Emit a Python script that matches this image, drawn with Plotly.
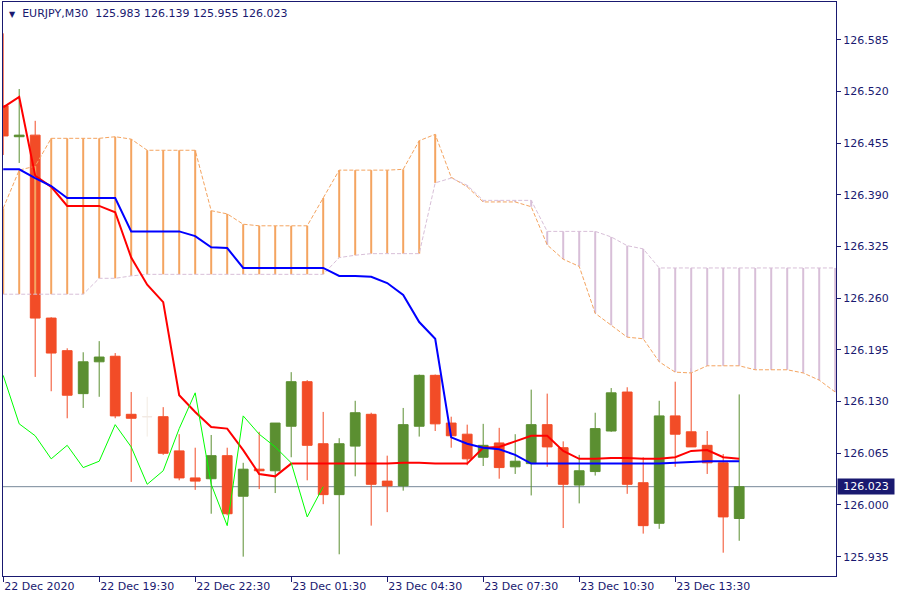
import plotly.graph_objects as go

# ---------------- data ----------------
symbol_title = "EURJPY,M30"
tick_idx = [0, 6, 12, 18, 24, 30, 36, 42]
tick_labels = ["22 Dec 2020", "22 Dec 19:30", "22 Dec 22:30", "23 Dec 01:30",
               "23 Dec 04:30", "23 Dec 07:30", "23 Dec 10:30", "23 Dec 13:30"]

opens = [126.502, 126.463, 126.465, 126.235, 126.194, 126.140, 126.180, 126.187,
         126.114, 126.111, 126.111, 126.068, 126.034, 126.033, 126.062, 126.011,
         126.045, 126.043, 126.099, 126.155, 126.077, 126.013, 126.074, 126.114,
         126.030, 126.024, 126.099, 126.163, 126.103, 126.089, 126.060, 126.078,
         126.048, 126.052, 126.101, 126.072, 126.025, 126.042, 126.093, 126.142,
         126.028, 125.977, 126.112, 126.092, 126.075, 126.053, 125.983]
highs = [126.593, 126.523, 126.483, 126.236, 126.197, 126.192, 126.206, 126.191,
         126.142, 126.136, 126.123, 126.089, 126.072, 126.088, 126.072, 126.053,
         126.092, 126.103, 126.167, 126.157, 126.117, 126.084, 126.131, 126.116,
         126.062, 126.122, 126.164, 126.164, 126.111, 126.101, 126.102, 126.097,
         126.089, 126.145, 126.140, 126.080, 126.063, 126.116, 126.147, 126.148,
         126.060, 126.131, 126.155, 126.172, 126.093, 126.064, 126.139]
lows = [126.440, 126.430, 126.161, 126.143, 126.109, 126.122, 126.136, 126.109,
        126.029, 126.086, 126.063, 126.031, 126.019, 125.989, 125.987, 125.935,
        126.020, 126.015, 126.060, 126.031, 126.001, 125.938, 126.036, 125.974,
        125.991, 126.018, 126.086, 126.093, 126.072, 126.050, 126.049, 126.033,
        126.039, 126.012, 126.048, 125.971, 126.002, 126.037, 126.092, 126.014,
        125.964, 125.970, 126.048, 126.073, 126.039, 125.940, 125.955]
closes = [126.464, 126.465, 126.235, 126.191, 126.138, 126.180, 126.186, 126.112,
          126.109, 126.111, 126.065, 126.034, 126.030, 126.062, 125.989, 126.045,
          126.043, 126.103, 126.155, 126.075, 126.013, 126.077, 126.116, 126.026,
          126.024, 126.101, 126.163, 126.102, 126.087, 126.058, 126.075, 126.047,
          126.055, 126.101, 126.073, 126.026, 126.043, 126.096, 126.141, 126.026,
          125.974, 126.112, 126.089, 126.073, 126.053, 125.985, 126.023]

tenkan = [126.500, 126.513, 126.414, 126.400, 126.376, 126.376, 126.376, 126.368,
          126.311, 126.277, 126.255, 126.138, 126.117, 126.098, 126.096, 126.069,
          126.039, 126.036, 126.052, 126.052, 126.052, 126.052, 126.052, 126.052,
          126.052, 126.053, 126.053, 126.052, 126.052, 126.052, 126.072, 126.073,
          126.080, 126.087, 126.087, 126.068, 126.058, 126.058, 126.059, 126.059,
          126.058, 126.058, 126.060, 126.068, 126.069, 126.060, 126.058]
kijun = [126.422, 126.422, 126.411, 126.401, 126.386, 126.386, 126.386, 126.386,
         126.344, 126.344, 126.344, 126.344, 126.338, 126.324, 126.323, 126.298,
         126.298, 126.298, 126.298, 126.298, 126.298, 126.288, 126.288, 126.287,
         126.279, 126.264, 126.230, 126.209, 126.085, 126.077, 126.072, 126.070,
         126.063, 126.052, 126.052, 126.052, 126.052, 126.052, 126.052, 126.052,
         126.052, 126.052, 126.053, 126.054, 126.055, 126.055, 126.055]
span_a = [126.373, 126.421, 126.426, 126.461, 126.461, 126.461, 126.461, 126.463,
          126.460, 126.446, 126.446, 126.446, 126.446, 126.370, 126.366, 126.353,
          126.351, 126.351, 126.351, 126.351, 126.386, 126.421, 126.421, 126.421,
          126.421, 126.422, 126.458, 126.466, 126.412, 126.400, 126.381, 126.381,
          126.381, 126.375, 126.327, 126.309, 126.300, 126.241, 126.226, 126.211,
          126.209, 126.180, 126.167, 126.166, 126.175, 126.175, 126.175, 126.170,
          126.170, 126.170, 126.166, 126.157, 126.142]
span_b = [126.265, 126.265, 126.265, 126.265, 126.265, 126.265, 126.285, 126.285,
          126.288, 126.290, 126.290, 126.290, 126.290, 126.290, 126.290, 126.290,
          126.290, 126.290, 126.290, 126.290, 126.290, 126.311, 126.314, 126.316,
          126.316, 126.316, 126.316, 126.405, 126.411, 126.402, 126.383, 126.383,
          126.383, 126.383, 126.344, 126.344, 126.344, 126.344, 126.337, 126.326,
          126.322, 126.298, 126.298, 126.298, 126.298, 126.298, 126.298, 126.298,
          126.298, 126.298, 126.298, 126.298, 126.298]
chikou_shift = 26
y_ticks = [125.935, 126.000, 126.065, 126.130, 126.195, 126.260, 126.325,
           126.390, 126.455, 126.520, 126.585]
last_price = closes[-1]

# ---------------- styles ----------------
NAVY = "#191970"
BEAR = "#F24C27"
BULL = "#5B8F31"
DOJI = "#F2EBE3"
FONT = "DejaVu Sans"

idx = list(range(len(opens)))

fig = go.Figure()

# cloud hatching (one vertical segment per bar)
hx_a, hy_a, hx_b, hy_b = [], [], [], []
for i, (a, b) in enumerate(zip(span_a, span_b)):
    if a >= b:
        hx_a += [i, i, None]
        hy_a += [a, b, None]
    else:
        hx_b += [i, i, None]
        hy_b += [a, b, None]
fig.add_trace(go.Scatter(x=hx_a, y=hy_a, mode="lines",
                         line=dict(color="#F4A460", width=2), hoverinfo="skip"))
fig.add_trace(go.Scatter(x=hx_b, y=hy_b, mode="lines",
                         line=dict(color="#D8BFD8", width=2), hoverinfo="skip"))

cloud_x = list(range(len(span_a)))
fig.add_trace(go.Scatter(x=cloud_x, y=span_a, mode="lines", name="Senkou Span A",
                         line=dict(color="#F4A460", width=1, dash="4px,2px")))
fig.add_trace(go.Scatter(x=cloud_x, y=span_b, mode="lines", name="Senkou Span B",
                         line=dict(color="#D8BFD8", width=1, dash="4px,2px")))

fig.add_trace(go.Scatter(x=idx, y=tenkan, mode="lines", name="Tenkan-sen",
                         line=dict(color="#FF0000", width=2)))
fig.add_trace(go.Scatter(x=idx, y=kijun, mode="lines", name="Kijun-sen",
                         line=dict(color="#0000FF", width=2)))

chikou_x = [i - chikou_shift for i in idx[chikou_shift:]]
chikou_y = closes[chikou_shift:]
fig.add_trace(go.Scatter(x=chikou_x, y=chikou_y, mode="lines", name="Chikou Span",
                         line=dict(color="#00FF00", width=1)))

# candles
main = [i for i in idx if opens[i] != closes[i]]
doji = [i for i in idx if opens[i] == closes[i]]
fig.add_trace(go.Candlestick(
    x=main, open=[opens[i] for i in main], high=[highs[i] for i in main],
    low=[lows[i] for i in main], close=[closes[i] for i in main],
    increasing=dict(line=dict(color=BULL, width=1), fillcolor=BULL),
    decreasing=dict(line=dict(color=BEAR, width=1), fillcolor=BEAR),
    whiskerwidth=0, name=symbol_title))
if doji:
    fig.add_trace(go.Candlestick(
        x=doji, open=[opens[i] for i in doji], high=[highs[i] for i in doji],
        low=[lows[i] for i in doji], close=[closes[i] for i in doji],
        increasing=dict(line=dict(color=DOJI, width=1), fillcolor=DOJI),
        decreasing=dict(line=dict(color=DOJI, width=1), fillcolor=DOJI),
        whiskerwidth=0, name="doji"))

# last price line and label
fig.add_shape(type="line", xref="paper", x0=0, x1=1, yref="y",
              y0=last_price, y1=last_price, layer="below",
              line=dict(color="#778899", width=1))
fig.add_annotation(xref="paper", x=1, xanchor="left", xshift=1, yref="y",
                   y=last_price, yanchor="middle", text=f"{last_price:.3f}",
                   showarrow=False, bgcolor=NAVY, width=54, height=13,
                   font=dict(family=FONT, size=11, color="white"))

header = (f"<span style='font-size:8px'>▼</span>\u00a0\u00a0{symbol_title}\u00a0\u00a0"
          f"{opens[-1]:.3f} {highs[-1]:.3f} {lows[-1]:.3f} {closes[-1]:.3f}")
fig.add_annotation(xref="paper", yref="paper", x=0, y=1, xanchor="left",
                   yanchor="top", xshift=4, yshift=-3, text=header,
                   showarrow=False, font=dict(family=FONT, size=11, color=NAVY))

fig.update_layout(
    width=900, height=600,
    margin=dict(l=3, r=64, t=2, b=24, autoexpand=False),
    paper_bgcolor="white", plot_bgcolor="white",
    showlegend=False,
    boxgap=0.39, boxgroupgap=0,
    font=dict(family=FONT, size=11, color=NAVY),
    xaxis=dict(range=[-0.0125, 52.05], tickvals=tick_idx, ticktext=tick_labels,
               ticks="outside", ticklen=5, tickcolor=NAVY, tickwidth=1,
               ticklabelposition="outside right",
               showgrid=False, zeroline=False, showline=True, mirror=True,
               linecolor=NAVY, linewidth=1, rangeslider=dict(visible=False),
               tickfont=dict(family=FONT, size=11, color=NAVY)),
    yaxis=dict(side="right", range=[125.9107, 126.6324], tickvals=y_ticks,
               ticktext=[f"{v:.3f}" for v in y_ticks],
               ticks="outside", ticklen=4, tickcolor=NAVY, tickwidth=1,
               showgrid=False, zeroline=False, showline=True, mirror=True,
               linecolor=NAVY, linewidth=1,
               tickfont=dict(family=FONT, size=11, color=NAVY)),
)

fig.write_html("out.html",
               config={"displayModeBar": False},
               post_script="document.body.style.margin='0px';"
                           "document.body.style.overflow='hidden';")
